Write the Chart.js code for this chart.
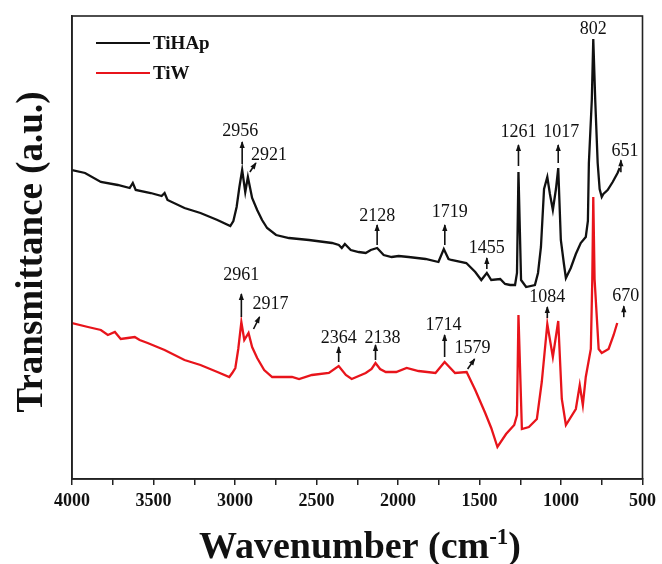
<!DOCTYPE html>
<html>
<head>
<meta charset="utf-8">
<script src="https://cdn.jsdelivr.net/npm/chart.js@4/dist/chart.umd.min.js"></script>
<style>
html, body { margin: 0; padding: 0; background: #fff; }
#wrap { width: 662px; height: 564px; position: relative; }
</style>
</head>
<body>
<div id="wrap"><canvas id="ftir"></canvas></div>
<script>
// spectra (wavenumber in cm-1, transmittance in a.u.)
const tihapWavenumber = [4000, 3920, 3823, 3719, 3646, 3627, 3609, 3517, 3450, 3432, 3414, 3310, 3212, 3108, 3029, 3010, 2990, 2973, 2956, 2937, 2921, 2895, 2864, 2834, 2803, 2748, 2669, 2546, 2405, 2363, 2345, 2326, 2290, 2241, 2198, 2167, 2128, 2088, 2039, 1996, 1935, 1831, 1752, 1719, 1690, 1673, 1581, 1526, 1489, 1455, 1428, 1373, 1343, 1312, 1282, 1270, 1261, 1245, 1214, 1160, 1141, 1123, 1104, 1084, 1068, 1050, 1031, 1017, 1001, 982, 970, 940, 909, 879, 848, 835, 829, 811, 802, 790, 775, 763, 750, 740, 714, 683, 653, 640];
const tihapValues = [309, 306, 297, 294, 291, 296, 289, 286, 283, 286, 279, 271, 266, 259, 253, 258, 272, 292, 309, 287, 302, 281, 269, 259, 251, 244, 241, 239, 236, 234, 231, 235, 229, 227, 226, 229, 231, 224, 222, 223, 222, 220, 217, 230, 220, 219, 216, 207, 199, 206, 199, 200, 195, 194, 194, 206, 307, 199, 192, 194, 206, 232, 290, 302, 285, 269, 290, 311, 239, 215, 201, 211, 225, 236, 242, 258, 316, 379, 440, 379, 316, 290, 282, 285, 289, 297, 306, 311];

const tiwWavenumber = [4000, 3902, 3823, 3780, 3737, 3701, 3658, 3615, 3585, 3536, 3432, 3310, 3212, 3108, 3035, 3017, 2998, 2980, 2961, 2943, 2917, 2895, 2864, 2821, 2772, 2650, 2607, 2528, 2424, 2364, 2320, 2284, 2198, 2162, 2138, 2110, 2075, 2011, 1947, 1874, 1770, 1714, 1650, 1579, 1526, 1465, 1428, 1390, 1337, 1287, 1270, 1261, 1240, 1197, 1148, 1118, 1084, 1050, 1017, 995, 970, 909, 885, 866, 848, 817, 808, 802, 794, 769, 750, 708, 677, 655];
const tiwValues = [156, 152, 149, 144, 147, 140, 141, 142, 139, 136, 129, 119, 114, 107, 102, 106, 111, 130, 157, 139, 146, 132, 121, 109, 102, 102, 100, 104, 106, 113, 104, 100, 106, 110, 116, 110, 107, 107, 111, 108, 106, 117, 106, 107, 89, 66, 51, 32, 45, 54, 64, 164, 50, 52, 60, 97, 155, 122, 158, 80, 54, 70, 94, 74, 102, 130, 200, 282, 200, 130, 126, 130, 144, 156];

const xTickValues = [4000, 3500, 3000, 2500, 2000, 1500, 1000, 500];
const tihapPeaks = [2956, 2921, 2128, 1719, 1455, 1261, 1017, 802, 651];
const tiwPeaks = [2961, 2917, 2364, 2138, 1714, 1579, 1084, 670];

// where each peak label and arrow sits, relative to the curve at that wavenumber (px)
const peakLayout = {
    TiHAp: {
        2956: { arrow: [0, -6, 0, -28], text: [-2, -34], align: 'center' },
        2921: { arrow: [2, -5, 8, -14], text: [3, -17], align: 'left' },
        2128: { arrow: [0, -3, 0, -23], text: [0, -27], align: 'center' },
        1719: { arrow: [1, -4, 1, -24], text: [6, -32], align: 'center' },
        1455: { arrow: [0, -4, 0, -15], text: [0, -20], align: 'center' },
        1261: { arrow: [0, -6, 0, -27], text: [0, -35], align: 'center' },
        1017: { arrow: [0, -5, 0, -23], text: [3, -31], align: 'center' },
        802: { arrow: null, text: [0, -5], align: 'center' },
        651: { arrow: [3, 0, 3, -12], text: [7, -16], align: 'center' }
    },
    TiW: {
        2961: { arrow: [0, -5, 0, -28], text: [0, -42], align: 'center' },
        2917: { arrow: [5, -4, 11, -16], text: [4, -24], align: 'left' },
        2364: { arrow: [0, -4, 0, -19], text: [0, -23], align: 'center' },
        2138: { arrow: [0, -3, 0, -18], text: [7, -20], align: 'center' },
        1714: { arrow: [0, -5, 0, -27], text: [-1, -32], align: 'center' },
        1579: { arrow: [1, -3, 8, -13], text: [-12, -19], align: 'left' },
        1084: { arrow: [0, -6, 0, -17], text: [0, -22], align: 'center' },
        670: { arrow: [9, -14, 9, -25], text: [11, -30], align: 'center' }
    }
};

const serif = '"Liberation Serif", "Times New Roman", serif';

function toPoints(xs, ys) {
    return xs.map((x, i) => ({ x: x, y: ys[i] }));
}

function valueAt(xs, ys, wn) {
    for (let i = 0; i < xs.length - 1; i++) {
        if (xs[i] >= wn && xs[i + 1] <= wn) {
            const t = (xs[i] - wn) / (xs[i] - xs[i + 1]);
            return ys[i] + t * (ys[i + 1] - ys[i]);
        }
    }
    return ys[ys.length - 1];
}

function drawArrow(ctx, x0, y0, x1, y1) {
    ctx.beginPath();
    ctx.moveTo(x0, y0);
    ctx.lineTo(x1, y1);
    ctx.stroke();
    const a = Math.atan2(y1 - y0, x1 - x0);
    const len = 6, half = 2.6;
    ctx.beginPath();
    ctx.moveTo(x1 + Math.cos(a), y1 + Math.sin(a));
    ctx.lineTo(x1 - Math.cos(a) * len - Math.sin(a) * half, y1 - Math.sin(a) * len + Math.cos(a) * half);
    ctx.lineTo(x1 - Math.cos(a) * len + Math.sin(a) * half, y1 - Math.sin(a) * len - Math.cos(a) * half);
    ctx.closePath();
    ctx.fill();
}

const decorations = {
    id: 'decorations',
    afterDatasetsDraw(chart) {
        const { ctx, chartArea, scales } = chart;
        ctx.save();

        // frame
        ctx.strokeStyle = '#222';
        ctx.lineWidth = 1.6;
        ctx.strokeRect(chartArea.left, chartArea.top, chartArea.right - chartArea.left, chartArea.bottom - chartArea.top);

        // peak labels
        const sets = [
            { name: 'TiHAp', xs: tihapWavenumber, ys: tihapValues, peaks: tihapPeaks },
            { name: 'TiW', xs: tiwWavenumber, ys: tiwValues, peaks: tiwPeaks }
        ];
        ctx.fillStyle = '#111';
        ctx.strokeStyle = '#111';
        ctx.lineWidth = 1.6;
        ctx.font = '18px ' + serif;
        ctx.textBaseline = 'alphabetic';
        sets.forEach(s => {
            s.peaks.forEach(p => {
                const lay = peakLayout[s.name][p];
                const px = scales.x.getPixelForValue(p);
                const py = scales.y.getPixelForValue(valueAt(s.xs, s.ys, p));
                if (lay.arrow) {
                    drawArrow(ctx, px + lay.arrow[0], py + lay.arrow[1], px + lay.arrow[2], py + lay.arrow[3]);
                }
                ctx.textAlign = lay.align;
                ctx.fillText(String(p), px + lay.text[0], py + lay.text[1]);
            });
        });

        // legend
        ctx.font = 'bold 19px ' + serif;
        ctx.textAlign = 'left';
        ctx.textBaseline = 'middle';
        chart.data.datasets.forEach((ds, i) => {
            const y = 43 + i * 30;
            ctx.strokeStyle = ds.borderColor;
            ctx.lineWidth = 2.2;
            ctx.beginPath();
            ctx.moveTo(96, y);
            ctx.lineTo(150, y);
            ctx.stroke();
            ctx.fillStyle = '#111';
            ctx.fillText(ds.label, 153, y + 1);
        });

        // x title with superscript
        ctx.textBaseline = 'alphabetic';
        const main = 'Wavenumber (cm';
        const sup = '-1';
        const close = ')';
        ctx.font = 'bold 38px ' + serif;
        const wMain = ctx.measureText(main).width;
        const wClose = ctx.measureText(close).width;
        ctx.font = 'bold 23px ' + serif;
        const wSup = ctx.measureText(sup).width;
        let x = 360 - (wMain + wSup + wClose) / 2;
        ctx.fillStyle = '#111';
        ctx.font = 'bold 38px ' + serif;
        ctx.fillText(main, x, 558);
        x += wMain;
        ctx.font = 'bold 23px ' + serif;
        ctx.fillText(sup, x, 544);
        x += wSup;
        ctx.font = 'bold 38px ' + serif;
        ctx.fillText(close, x, 558);

        // y title
        ctx.font = 'bold 37px ' + serif;
        ctx.translate(42, 252);
        ctx.rotate(-Math.PI / 2);
        ctx.textAlign = 'center';
        ctx.fillText('Transmittance (a.u.)', 0, 0);

        ctx.restore();
    }
};

const ctx = document.getElementById('ftir').getContext('2d');
new Chart(ctx, {
    type: 'line',
    data: {
        datasets: [{
            label: 'TiHAp',
            data: toPoints(tihapWavenumber, tihapValues),
            borderColor: '#111',
            borderWidth: 2.3,
            pointRadius: 0,
            tension: 0
        }, {
            label: 'TiW',
            data: toPoints(tiwWavenumber, tiwValues),
            borderColor: '#e8141b',
            borderWidth: 2.3,
            pointRadius: 0,
            tension: 0
        }]
    },
    options: {
        responsive: true,
        maintainAspectRatio: false,
        animation: false,
        layout: { padding: { top: 16, right: 17, left: 0, bottom: 0 } },
        plugins: {
            legend: { display: false },
            tooltip: { enabled: false }
        },
        scales: {
            x: {
                type: 'linear',
                reverse: true,
                min: 500,
                max: 4000,
                afterFit: scale => { scale.height = 85; },
                ticks: {
                    stepSize: 250,
                    autoSkip: false,
                    maxRotation: 0,
                    padding: 6,
                    color: '#111',
                    font: { family: serif, size: 18, weight: 'bold' },
                    callback: v => xTickValues.includes(v) ? String(v) : ''
                },
                grid: {
                    display: true,
                    drawOnChartArea: false,
                    drawTicks: true,
                    tickLength: 6,
                    color: '#222',
                    lineWidth: 1.5
                },
                border: { display: true, color: '#222', width: 1.6 }
            },
            y: {
                min: 0,
                max: 463,
                afterFit: scale => { scale.width = 72; },
                ticks: { display: false },
                grid: { display: false },
                border: { display: true, color: '#222', width: 1.6 }
            }
        }
    },
    plugins: [decorations]
});
</script>
</body>
</html>
